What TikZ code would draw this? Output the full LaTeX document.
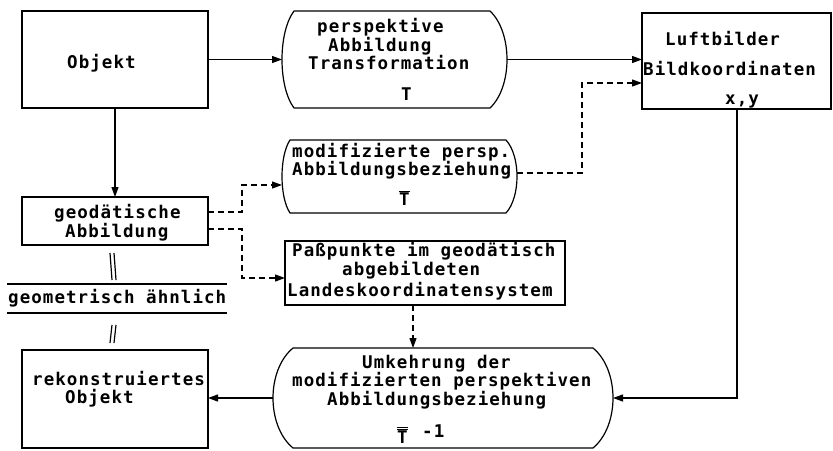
\documentclass[tikz,border=0pt]{standalone}
\usepackage{fontspec}
\usetikzlibrary{arrows.meta,calc}
% typewriter-like lettering
\newfontfamily\tw{DejaVu Sans Mono}[LetterSpace=6]

% rounded-side block: #1 node name, #2 left inset, #3 right inset
\newcommand\capsule[3]{%
  \draw[outline] let \p1=(#1.north west), \p2=(#1.south east), \n1={\y1-\y2} in
    ({\x1+#2},\y1) -- ({\x2-#3},\y1)
    .. controls ({\x2+#3/3},{\y1-0.22*\n1}) and ({\x2+#3/3},{\y2+0.22*\n1}) .. ({\x2-#3},\y2)
    -- ({\x1+#2},\y2)
    .. controls ({\x1-#2/3},{\y2+0.22*\n1}) and ({\x1-#2/3},{\y1-0.22*\n1}) .. cycle;}

\begin{document}
\begin{tikzpicture}[x=1pt,y=-1pt,
  outline/.style={line width=1.2pt, line join=round},
  blockbox/.style={draw, line width=1.2pt, inner sep=0pt, outer sep=0pt},
  frame/.style={inner sep=0pt, outer sep=0pt},
  txt/.style={anchor=base west, inner sep=0pt, font=\tw\bfseries\fontsize{17.5}{17.5}\selectfont},
  rule/.style={line width=1.2pt},
  flow/.style={line width=1.2pt, -{Triangle[length=10pt,width=7pt]}},
  dflow/.style={flow, dash pattern=on 6pt off 4pt}]

\useasboundingbox (0,0) rectangle (833,450);

% blocks
\node[blockbox, minimum width=186pt, minimum height=97pt] (obj)  at (115,59.5) {};
\node[frame,    minimum width=225pt, minimum height=97pt] (persp) at (394.5,59.5) {};
\node[blockbox, minimum width=189pt, minimum height=96pt] (luft) at (736.5,61) {};
\node[frame,    minimum width=235pt, minimum height=73pt] (mod)  at (399.5,176.5) {};
\node[blockbox, minimum width=186pt, minimum height=48pt] (geo)  at (115,221) {};
\node[blockbox, minimum width=280pt, minimum height=64pt] (pass) at (425,273) {};
\node[frame,    minimum width=220pt, minimum height=29pt] (sim)  at (117,298.5) {};
\node[frame,    minimum width=340pt, minimum height=100pt] (umk) at (443,398) {};
\node[blockbox, minimum width=186pt, minimum height=98pt] (rek)  at (115,399) {};

\capsule{persp}{12pt}{17pt}
\capsule{mod}{8pt}{11pt}
\capsule{umk}{20pt}{20pt}

% lettering
\node[txt] (t1)  at (67,68)   {Objekt};
\node[txt] (t2)  at (317,32)  {perspektive};
\node[txt] (t3)  at (328,51)  {Abbildung};
\node[txt] (t4)  at (308,69)  {Transformation};
\node[txt] (t5)  at (401,100) {T};
\node[txt] (t6)  at (665,45)  {Luftbilder};
\node[txt] (t7)  at (643,75)  {Bildkoordinaten};
\node[txt] (t8)  at (725,104) {x,y};
\node[txt] (t9)  at (292,157) {modifizierte persp.};
\node[txt] (t10) at (292,175) {Abbildungsbeziehung};
\node[txt] (t11) at (399,205) {$\overline{\hbox{T}}$};
\node[txt] (t12) at (54,218)  {geodätische};
\node[txt] (t13) at (65,237)  {Abbildung};
\node[txt] (t14) at (292,256) {Paßpunkte im geodätisch};
\node[txt] (t15) at (342,275) {abgebildeten};
\node[txt] (t16) at (287,296) {Landeskoordinatensystem};
\node[txt] (t17) at (8,303)   {geometrisch ähnlich};
\node[txt] (t18) at (32,385)  {rekonstruiertes};
\node[txt] (t19) at (65,403)  {Objekt};
\node[txt] (t20) at (362,368) {Umkehrung der};
\node[txt] (t21) at (292,386) {modifizierten perspektiven};
\node[txt] (t22) at (327,405) {Abbildungsbeziehung};
\node[txt] (t23) at (397,443) {$\overline{\overline{\hbox{T}}}$};
\node[txt] (t24) at (422,437) {-1};

% similarity rules
\draw[rule] (sim.north west) -- (sim.north east);
\draw[rule] (sim.south west) -- (sim.south east);
\foreach \dx in {-5,-1} {
  \draw[rule] ([xshift=\dx pt, yshift=-8pt]geo.south) -- ([xshift=\dx pt, yshift=4pt]sim.north);
  \draw[rule] ([xshift=\dx pt, yshift=-12pt]sim.south) -- ([xshift=\dx pt, yshift=7pt]rek.north);
}

% solid flows
\draw[flow] (obj.east) -- (obj.east -| persp.west);
\draw[flow] (persp.east) -- (persp.east -| luft.west);
\draw[flow] (obj.south) -- (geo.north);
\draw[flow] ([xshift=0.5pt]luft.south) |- (umk.east);
\draw[flow] (umk.west) -- (umk.west -| rek.east);

% dashed flows
\draw[dflow] ([yshift=9pt]geo.east) -- ++(34,0) |- ([yshift=-8.5pt]mod.west);
\draw[dflow] ([yshift=-8pt]geo.east) -- ++(34,0) |- ([yshift=-5pt]pass.west);
\draw[dflow] ([yshift=3.5pt]mod.east) -- ++(65,0) |- ([yshift=-22pt]luft.west);
\draw[dflow] ([xshift=-12pt]pass.south) -- ([xshift=-12pt]pass.south |- umk.north);

\end{tikzpicture}
\end{document}
